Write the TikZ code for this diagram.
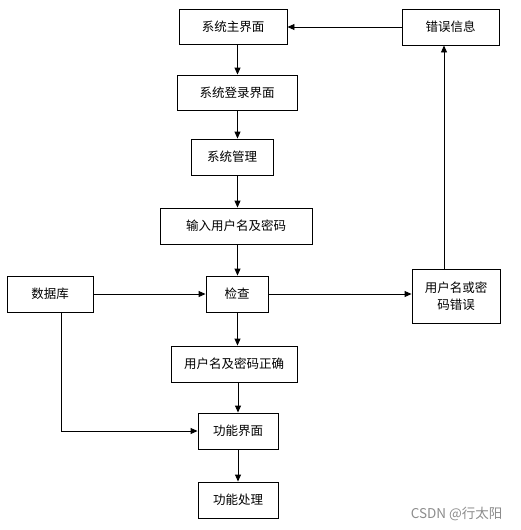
\documentclass[tikz,border=0pt]{standalone}
\usepackage{fontspec}
\setmainfont{Noto Sans CJK SC}
\usetikzlibrary{arrows.meta}
\begin{document}
\begin{tikzpicture}[x=1pt,y=-1pt,
  box/.style={draw=black,line width=0.9pt,inner sep=0pt,align=center,font=\fontsize{12.5}{17.5}\selectfont},
  arr/.style={line width=0.9pt,-{Triangle[length=7pt,width=6pt]}},
  ln/.style={line width=0.9pt}]
\useasboundingbox (0,0) rectangle (521,530);
\node[box,minimum width=108pt,minimum height=35pt] (main) at (233,26.5) {系统主界面};
\node[box,minimum width=120pt,minimum height=35pt] (login) at (237,92.5) {系统登录界面};
\node[box,minimum width=82pt,minimum height=36pt] (mgmt) at (232,157) {系统管理};
\node[box,minimum width=152pt,minimum height=36pt] (input) at (236,226) {输入用户名及密码};
\node[box,minimum width=86pt,minimum height=36pt] (db) at (50,294) {数据库};
\node[box,minimum width=62pt,minimum height=36pt] (chk) at (237,294) {检查};
\node[box,minimum width=88pt,minimum height=54pt] (err) at (456,296) {用户名或密\\码错误};
\node[box,minimum width=97pt,minimum height=36pt] (info) at (450.5,27) {错误信息};
\node[box,minimum width=126pt,minimum height=36pt] (ok) at (234,364) {用户名及密码正确};
\node[box,minimum width=80pt,minimum height=36pt] (func) at (238,431) {功能界面};
\node[box,minimum width=80pt,minimum height=36pt] (proc) at (238,500) {功能处理};
\coordinate (cx) at (237.5,0);
\coordinate (ex) at (444,0);
\coordinate (dbx) at (61,0);
\draw[arr] (main.south -| cx) -- (login.north -| cx);
\draw[arr] (login.south -| cx) -- (mgmt.north -| cx);
\draw[arr] (mgmt.south -| cx) -- (input.north -| cx);
\draw[arr] (input.south -| cx) -- (chk.north -| cx);
\draw[arr] (chk.south -| cx) -- (ok.north -| cx);
\draw[arr] (ok.south -| func) -- (func.north);
\draw[arr] (func) -- (proc);
\draw[arr] (db.east) -- (chk.west);
\draw[arr] (chk.east) -- (chk.east -| err.west);
\draw[arr] (err.north -| ex) -- (info.south -| ex);
\draw[arr] (info.west) -- (info.west -| main.east);
\draw[arr] (db.south -| dbx) |- (func.west);
\node[text=black!45,font=\fontsize{13.5}{15}\selectfont,anchor=east] (wm) at (506,514) {CSDN @行太阳};
\end{tikzpicture}
\end{document}
